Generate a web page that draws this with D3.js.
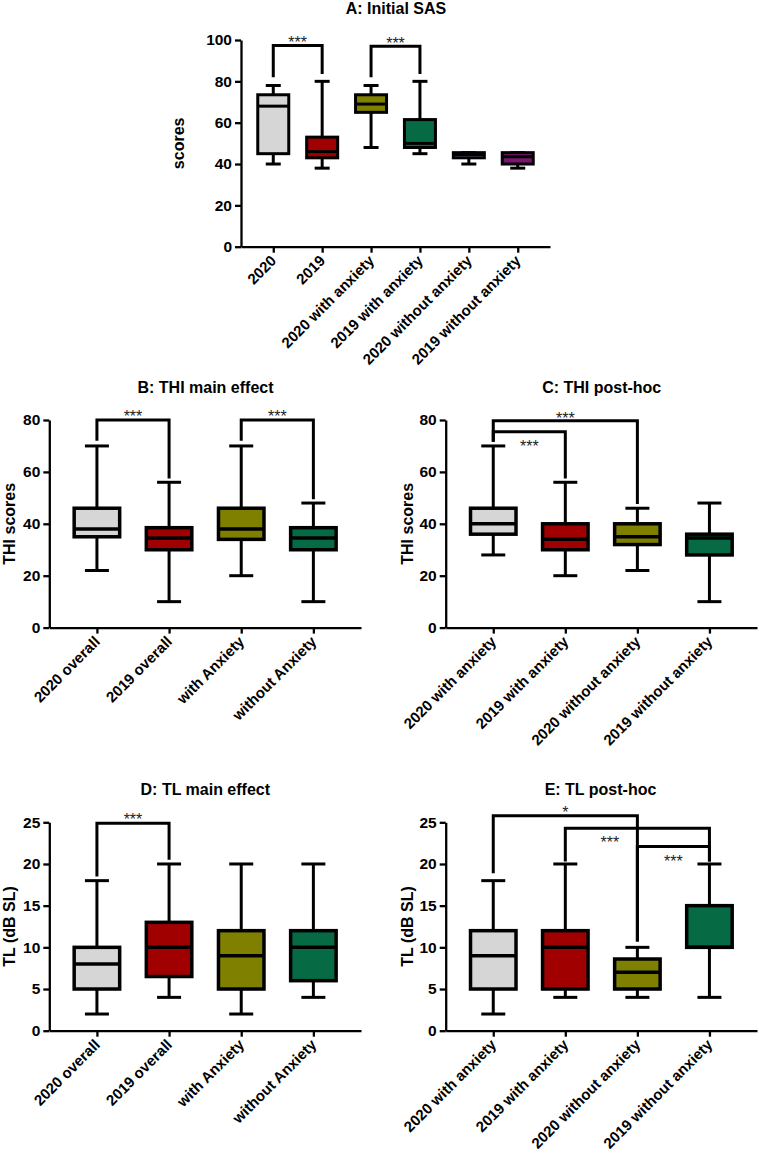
<!DOCTYPE html>
<html><head><meta charset="utf-8">
<script src="https://cdnjs.cloudflare.com/ajax/libs/d3/7.8.5/d3.min.js"></script>
<style>
body{margin:0;background:#fff;}
svg{display:block;font-family:"Liberation Sans",Arial,sans-serif;}
</style></head>
<body>
<svg id="chart" width="759" height="1159"></svg>
<script>
// ---------- DATA ----------
// stats per box: [min, q1, median, q3, max]
const catsA = ["2020","2019","2020 with anxiety","2019 with anxiety","2020 without anxiety","2019 without anxiety"];
const statsA = [[40,45,68,73.5,78],[38,43,46,53,80],[48,65,69,73.5,78],[45,48,50,61.5,80],[40,43,44.5,45.5,45.5],[38,40,43.5,45.5,45.5]];
const colorsA = ["#d6d6d6","#a00000","#808000","#066b45","#a3a3ee","#7a1570"];
const ticksA = [0,20,40,60,80,100];
const bracketsA = [{from:0,to:1,y:97.3,leftEnd:82,rightEnd:83.5,label:"***"},{from:2,to:3,y:97,leftEnd:82,rightEnd:83.5,label:"***"}];

const catsB = ["2020 overall","2019 overall","with Anxiety","without Anxiety"];
const statsB = [[22,35,38,46,70],[10,30,34.5,38.5,56],[20,34,38,46,70],[10,30,34.5,38.5,48]];
const colorsB = ["#d6d6d6","#a00000","#808000","#066b45"];
const ticksB = [0,20,40,60,80];
const bracketsB = [{from:0,to:1,y:80,leftEnd:72,rightEnd:57.5,label:"***"},{from:2,to:3,y:80,leftEnd:72,rightEnd:49.5,label:"***"}];

const catsC = ["2020 with anxiety","2019 with anxiety","2020 without anxiety","2019 without anxiety"];
const statsC = [[28,36,40,46,70],[20,30,34,40,56],[22,32,35,40,46],[10,28,34.5,36,48]];
const colorsC = ["#d6d6d6","#a00000","#808000","#066b45"];
const ticksC = [0,20,40,60,80];
const bracketsC = [{from:0,to:2,y:79.7,leftEnd:71.6,rightEnd:47.6,label:"***"},{from:0,to:1,y:75.5,leftEnd:71.6,rightEnd:57.5,label:"***"}];

const catsD = ["2020 overall","2019 overall","with Anxiety","without Anxiety"];
const statsD = [[2,5,8,10,18],[4,6.5,10,13,20],[2,5,9,12,20],[4,6,10,12,20]];
const colorsD = ["#d6d6d6","#a00000","#808000","#066b45"];
const ticksD = [0,5,10,15,20,25];
const bracketsD = [{from:0,to:1,y:24.9,leftEnd:18.5,rightEnd:20.5,label:"***"}];

const catsE = ["2020 with anxiety","2019 with anxiety","2020 without anxiety","2019 without anxiety"];
const statsE = [[2,5,9,12,18],[4,5,10,12,20],[4,5,7,8.6,10],[4,10,10,15,20]];
const colorsE = ["#d6d6d6","#a00000","#808000","#066b45"];
const ticksE = [0,5,10,15,20,25];
const bracketsE = [{from:0,to:2,y:25.8,leftEnd:18.9,rightEnd:10.7,label:"*"},{from:1,to:3,y:24.3,leftEnd:20.3,rightEnd:20.3,label:"***"},{from:2,to:3,y:22.1,leftEnd:10.7,rightEnd:20.3,label:"***"}];

// ---------- DRAW ----------
const svg = d3.select("#chart");

function panel(o){
  const g = svg.append("g");
  const y = d3.scaleLinear().domain(o.domain).range([o.yBottom, o.yTop]);
  const x = d3.scalePoint().domain(o.cats).range([o.x0, o.x1]).padding(0.66);

  // axes
  const ya = g.append("g").attr("transform",`translate(${o.x0},0)`)
    .call(d3.axisLeft(y).tickValues(o.ticks).tickSize(6).tickSizeOuter(0).tickPadding(3));
  const xa = g.append("g").attr("transform",`translate(0,${o.yBottom})`)
    .call(d3.axisBottom(x).tickSize(6).tickSizeOuter(0).tickFormat(""));
  [ya,xa].forEach(a=>{
    a.select(".domain").attr("stroke","#000").attr("stroke-width",2.3);
    a.selectAll(".tick line").attr("stroke","#000").attr("stroke-width",2.3);
  });
  ya.selectAll(".tick text").attr("font-size",15.5).attr("font-weight","bold").attr("fill","#000")
    .attr("font-family","Liberation Sans, Arial, sans-serif");
  // x labels rotated
  g.selectAll(".xl").data(o.cats).join("text")
    .attr("transform",d=>`translate(${x(d)+4},${o.yBottom+15}) rotate(-45)`)
    .attr("text-anchor","end")
    .attr("font-size",15).attr("font-weight","bold").text(d=>d);

  // title
  g.append("text").attr("x",o.titleX).attr("y",o.titleY).attr("text-anchor","middle")
    .attr("font-size",16).attr("font-weight","bold").text(o.title);
  // y label
  g.append("text").attr("transform",`translate(${o.ylabelX},${(o.yTop+o.yBottom)/2}) rotate(-90)`)
    .attr("text-anchor","middle").attr("dy","0.36em")
    .attr("font-size",16).attr("font-weight","bold").text(o.ylabel);

  // boxes
  const bw = o.boxW, cw = o.capW;
  const boxes = g.selectAll(".box").data(o.stats).join("g")
    .attr("transform",(d,i)=>`translate(${x(o.cats[i])},0)`);
  boxes.append("line").attr("y1",d=>y(d[0])).attr("y2",d=>y(d[4]))
    .attr("stroke","#000").attr("stroke-width",3);
  boxes.append("line").attr("x1",-cw/2).attr("x2",cw/2).attr("y1",d=>y(d[0])).attr("y2",d=>y(d[0]))
    .attr("stroke","#000").attr("stroke-width",3);
  boxes.append("line").attr("x1",-cw/2).attr("x2",cw/2).attr("y1",d=>y(d[4])).attr("y2",d=>y(d[4]))
    .attr("stroke","#000").attr("stroke-width",3);
  boxes.append("rect").attr("x",-bw/2).attr("width",bw)
    .attr("y",d=>y(d[3])).attr("height",d=>y(d[1])-y(d[3]))
    .attr("fill",(d,i)=>o.colors[i]).attr("stroke","#000").attr("stroke-width",o.boxStroke);
  boxes.append("line").attr("x1",-bw/2).attr("x2",bw/2).attr("y1",d=>y(d[2])).attr("y2",d=>y(d[2]))
    .attr("stroke","#000").attr("stroke-width",o.boxStroke);

  // brackets
  o.brackets.forEach((b,i)=>{
    const xa1 = x(o.cats[b.from]), xa2 = x(o.cats[b.to]);
    g.append("path")
      .attr("d",`M${xa1},${y(b.leftEnd)}V${y(b.y)}H${xa2}V${y(b.rightEnd)}`)
      .attr("fill","none").attr("stroke","#000").attr("stroke-width",3).attr("stroke-linejoin","miter");
    const lp = (o.labelPos && o.labelPos[i]) || {dx:0,dy:-7};
    g.append("text").attr("x",(xa1+xa2)/2+lp.dx).attr("y",y(b.y)+lp.dy+9.3)
      .attr("text-anchor","middle").attr("font-size",16).attr("fill","#222").text(b.label);
  });
}

panel({cats:catsA,stats:statsA,colors:colorsA,domain:[0,100],ticks:ticksA,x0:241,x1:550,yTop:40,yBottom:246.7,
  boxW:31,capW:15,boxStroke:3,title:"A: Initial SAS",titleX:396,titleY:13.5,ylabel:"scores",ylabelX:178,brackets:bracketsA});
panel({cats:catsB,stats:statsB,colors:colorsB,domain:[0,80],ticks:ticksB,x0:49.3,x1:361,yTop:420,yBottom:627.6,
  boxW:45.5,capW:24,boxStroke:3.5,title:"B: THI main effect",titleX:205.5,titleY:393,ylabel:"THI scores",ylabelX:9.5,brackets:bracketsB});
panel({cats:catsC,stats:statsC,colors:colorsC,domain:[0,80],ticks:ticksC,x0:445.7,x1:757,yTop:420,yBottom:627.6,
  boxW:45.5,capW:24,boxStroke:3.5,title:"C: THI post-hoc",titleX:601.7,titleY:392.7,ylabel:"THI scores",ylabelX:407,brackets:bracketsC,
  labelPos:[{dx:0,dy:-5.7},{dx:0,dy:11.3}]});
panel({cats:catsD,stats:statsD,colors:colorsD,domain:[0,25],ticks:ticksD,x0:49.3,x1:361,yTop:822.3,yBottom:1030.7,
  boxW:45.5,capW:24,boxStroke:3.5,title:"D: TL main effect",titleX:205.3,titleY:795,ylabel:"TL (dB SL)",ylabelX:9.5,brackets:bracketsD});
panel({cats:catsE,stats:statsE,colors:colorsE,domain:[0,25],ticks:ticksE,x0:445.7,x1:757,yTop:822.3,yBottom:1030.7,
  boxW:45.5,capW:24,boxStroke:3.5,title:"E: TL post-hoc",titleX:600.5,titleY:795,ylabel:"TL (dB SL)",ylabelX:407,brackets:bracketsE,
  labelPos:[{dx:0,dy:-6.7},{dx:-27.5,dy:10.7},{dx:0,dy:11}]});
</script>
</body></html>
